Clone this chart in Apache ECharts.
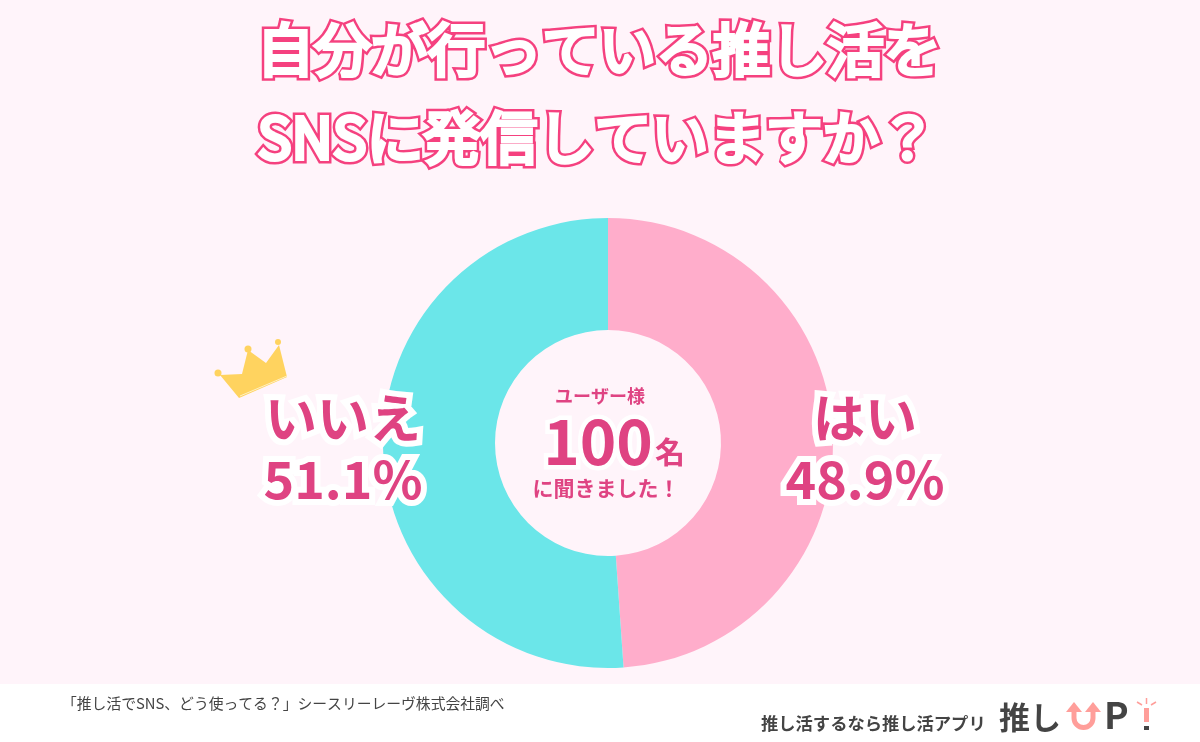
<!DOCTYPE html>
<html><head><meta charset="utf-8">
<style>html,body{margin:0;padding:0;background:#fff}#c{width:1200px;height:742px}</style>
<script src="https://cdn.jsdelivr.net/npm/echarts@6/dist/echarts.min.js"></script>
</head><body><div id="c"></div>
<script>
const categories = ['はい', 'いいえ'];
const values = [48.9, 51.1];
const colors = ['#FFADCB', '#6BE6E9'];
const titleLines = ['自分が行っている推し活を', 'SNSに発信していますか？'];
const centerTexts = ['ユーザー様', '100', '名', 'に聞きました！'];
const sourceText = '「推し活でSNS、どう使ってる？」シースリーレーヴ株式会社調べ';
const appText = '推し活するなら推し活アプリ';

const FONT = '"Noto Sans CJK JP","Noto Sans",sans-serif';
const PINK = '#F5417F', ROSE = '#DF4382', GREY = '#444444', LOGO = '#FF9E9A';
const chart = echarts.init(document.getElementById('c'), null, {renderer: 'canvas'});

function txt(text, x, y, size, fill, extra, weight) {
  return {type: 'text', x, y, z: 20, style: Object.assign({
    text, fill, font: `${weight || 'bold'} ${size}px ${FONT}`, align: 'center', verticalAlign: 'middle'}, extra || {})};
}
function titleLine(text, x, y, size) {
  return [
    txt(text, x, y, size, PINK, {stroke: PINK, lineWidth: 9, lineJoin: 'round', miterLimit: 1}, 'normal'),
    txt(text, x, y, size, '#FFFFFF', {stroke: '#FFFFFF', lineWidth: 4, lineJoin: 'round', miterLimit: 1}, 'normal')
  ];
}
const labelPos = [{x: 865, y: 449}, {x: 343, y: 449}];

chart.setOption({
  animation: false,
  backgroundColor: '#FFF4FA',
  series: [{
    type: 'pie',
    center: [608, 443],
    radius: [113, 225],
    startAngle: 90,
    clockwise: true,
    silent: true,
    z: 5,
    data: categories.map((name, i) => ({name, value: values[i], itemStyle: {color: colors[i]}})),
    label: {
      show: true,
      position: 'outside',
      formatter: p => `{a|${p.name}}\n{a|${p.value.toFixed(1)}%}`,
      rich: {a: {
        fontFamily: FONT, fontWeight: 'bold', fontSize: 52, lineHeight: 61, color: ROSE,
        textBorderColor: '#FFFFFF', textBorderWidth: 12, align: 'center'
      }}
    },
    labelLine: {show: false},
    labelLayout: p => ({x: labelPos[p.dataIndex].x, y: labelPos[p.dataIndex].y, align: 'center', verticalAlign: 'middle'})
  }],
  graphic: [
    {type: 'rect', z: 1, shape: {x: 0, y: 684, width: 1200, height: 58}, style: {fill: '#FFFFFF'}},
    ...titleLine(titleLines[0], 599, 49, 57),
    ...titleLine(titleLines[1], 597, 137, 57),
    txt(centerTexts[0], 600, 396, 18, ROSE),
    txt(centerTexts[1], 598, 441, 62, ROSE, {stroke: '#FFFFFF', lineWidth: 9, lineJoin: 'round'}),
    txt(centerTexts[2], 670, 452, 30, ROSE),
    txt(centerTexts[3], 606, 488, 21, ROSE),
    {type: 'polygon', z: 8, shape: {points: [[220,375],[242,374],[248,350],[266,363],[279,345],[287,377],[239,398]]}, style: {fill: '#FFD35F'}},
    {type: 'circle', z: 8, shape: {cx: 218, cy: 373, r: 3.5}, style: {fill: '#FFD35F'}},
    {type: 'circle', z: 8, shape: {cx: 248, cy: 349, r: 3.5}, style: {fill: '#FFD35F'}},
    {type: 'circle', z: 8, shape: {cx: 278, cy: 342, r: 3}, style: {fill: '#FFD35F'}},
    {type: 'line', z: 9, shape: {x1: 240, y1: 396, x2: 287, y2: 376}, style: {stroke: '#FFF1C4', lineWidth: 1}},
    {type: 'text', x: 62, y: 703, z: 20, style: {text: sourceText, fill: GREY, font: `14.8px ${FONT}`, align: 'left', verticalAlign: 'middle'}},
    {type: 'text', x: 761, y: 723, z: 20, style: {text: appText, fill: GREY, font: `bold 17.3px ${FONT}`, align: 'left', verticalAlign: 'middle'}},
    {type: 'text', x: 999, y: 717, z: 20, style: {text: '推し', fill: GREY, font: `bold 31px ${FONT}`, align: 'left', verticalAlign: 'middle'}},
    {type: 'text', x: 1104, y: 715, z: 20, style: {text: 'P', fill: GREY, font: `bold 37px ${FONT}`, align: 'left', verticalAlign: 'middle'}},
    {type: 'arc', z: 20, shape: {cx: 1083.5, cy: 718, r: 9.5, startAngle: 0, endAngle: Math.PI, clockwise: true}, style: {fill: 'none', stroke: LOGO, lineWidth: 5}},
    {type: 'line', z: 20, shape: {x1: 1074, y1: 710, x2: 1074, y2: 718}, style: {stroke: LOGO, lineWidth: 5}},
    {type: 'line', z: 20, shape: {x1: 1093, y1: 710, x2: 1093, y2: 718}, style: {stroke: LOGO, lineWidth: 5}},
    {type: 'polygon', z: 20, shape: {points: [[1074,702],[1082,712],[1066,712]]}, style: {fill: LOGO}},
    {type: 'polygon', z: 20, shape: {points: [[1093,702],[1101,712],[1085,712]]}, style: {fill: LOGO}},
    {type: 'rect', z: 20, shape: {x: 1144, y: 708, width: 5, height: 14}, style: {fill: LOGO}},
    {type: 'rect', z: 20, shape: {x: 1144, y: 726, width: 5, height: 4}, style: {fill: GREY}},
    {type: 'line', z: 20, shape: {x1: 1146.5, y1: 698, x2: 1146.5, y2: 704}, style: {stroke: LOGO, lineWidth: 1.5}},
    {type: 'line', z: 20, shape: {x1: 1137, y1: 702, x2: 1142, y2: 705}, style: {stroke: LOGO, lineWidth: 1.5}},
    {type: 'line', z: 20, shape: {x1: 1156, y1: 702, x2: 1151, y2: 705}, style: {stroke: LOGO, lineWidth: 1.5}}
  ]
});
</script></body></html>
